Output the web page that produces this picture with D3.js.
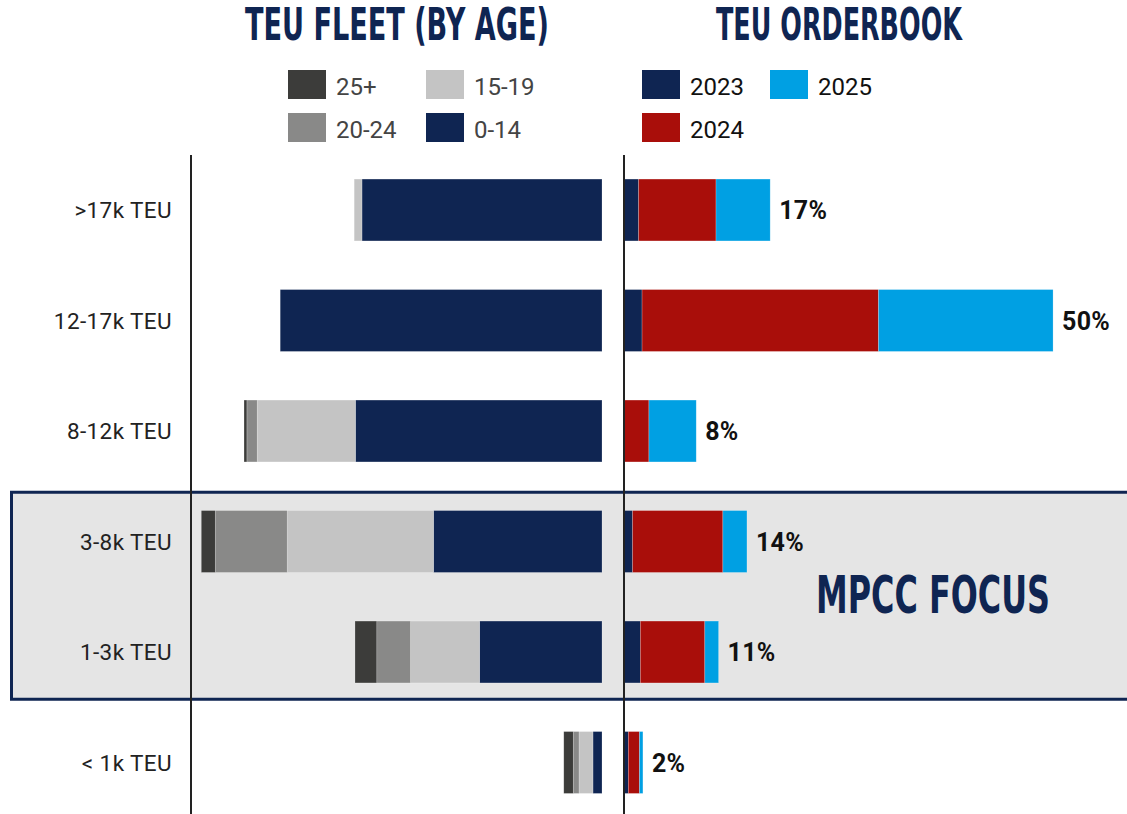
<!DOCTYPE html>
<html>
<head>
<meta charset="utf-8">
<script src="https://cdn.jsdelivr.net/npm/d3@7"></script>
<style>
    body { margin: 0; background: #fff; }
    svg { display: block; }
</style>
</head>
<body>
<div id="chart"></div>
<script>
const categories = ['>17k TEU', '12-17k TEU', '8-12k TEU', '3-8k TEU', '1-3k TEU', '< 1k TEU'];

// fleet by age (arbitrary units)
const ageKeys = ['25+', '20-24', '15-19', '0-14'];
const age25 = [0, 0, 0.07, 0.34, 0.53, 0.23];
const age20 = [0, 0, 0.25, 1.75, 0.82, 0.14];
const age15 = [0.19, 0, 2.39, 3.56, 1.68, 0.34];
const age0 = [5.84, 7.83, 6.00, 4.10, 2.98, 0.22];

// orderbook in % of fleet
const orderKeys = ['2023', '2024', '2025'];
const order2023 = [1.7, 2.1, 0, 1.0, 1.9, 0.5];
const order2024 = [9.0, 27.5, 2.9, 10.5, 7.5, 1.3];
const order2025 = [6.3, 20.3, 5.5, 2.8, 1.6, 0.4];
const orderLabels = ['17%', '50%', '8%', '14%', '11%', '2%'];

const focus = ['3-8k TEU', '1-3k TEU'];

const ageColors = {'25+': '#3c3c3a', '20-24': '#898988', '15-19': '#c4c4c4', '0-14': '#0f2552'};
const orderColors = {'2023': '#0f2552', '2024': '#a90e0a', '2025': '#00a0e3'};
const navy = '#0f2552';

const width = 1127;
const height = 814;

const svg = d3.select('#chart')
    .append('svg')
    .attr('width', width)
    .attr('height', height);

const y = d3.scaleBand()
    .domain(categories)
    .range([154.75, 817.75])
    .paddingInner(0.44)
    .paddingOuter(0.22);

const xLeft = d3.scaleLinear().domain([0, 10]).range([602, 191]);
const xRight = d3.scaleLinear().domain([0, 58.5]).range([624, 1127]);

// condensed bold heading: squeeze horizontally to the width seen in the original
function heading(text, cx, baseline, len, size) {
    const g = svg.append('g');
    const t = g.append('text')
        .attr('text-anchor', 'middle')
        .attr('font-family', '"DejaVu Sans", sans-serif')
        .attr('font-weight', 'bold')
        .attr('font-size', size)
        .attr('fill', navy)
        .text(text);
    const sx = len / t.node().getComputedTextLength();
    g.attr('transform', 'translate(' + cx + ',' + baseline + ') scale(' + sx + ',1)');
}

// MPCC focus box (runs off the right edge like the original)
const gap = (y.step() - y.bandwidth()) / 2;
const focusTop = y(focus[0]) - gap + 6;
const focusBottom = y(focus[1]) + y.bandwidth() + gap - 8;
svg.append('rect')
    .attr('x', 11.5)
    .attr('y', focusTop)
    .attr('width', width - 11.5 + 2)
    .attr('height', focusBottom - focusTop)
    .attr('fill', '#e5e5e5')
    .attr('stroke', navy)
    .attr('stroke-width', 3);

heading('MPCC FOCUS', 933, 613, 234, 51);

// stacked fleet bars, growing to the left
const fleetRows = categories.map((c, i) => ({
    cat: c, '25+': age25[i], '20-24': age20[i], '15-19': age15[i], '0-14': age0[i]
}));
const fleetStack = d3.stack().keys(ageKeys.slice().reverse())(fleetRows);

svg.append('g')
    .selectAll('g')
    .data(fleetStack)
    .enter()
    .append('g')
    .attr('fill', d => ageColors[d.key])
    .selectAll('rect')
    .data(d => d.filter(s => s[1] - s[0] > 0))
    .enter()
    .append('rect')
    .attr('x', d => xLeft(d[1]))
    .attr('y', d => y(d.data.cat))
    .attr('width', d => xLeft(d[0]) - xLeft(d[1]))
    .attr('height', y.bandwidth())
    .attr('stroke', '#ffffff')
    .attr('stroke-opacity', 0.35)
    .attr('stroke-width', 0.6);

// stacked orderbook bars
const orderRows = categories.map((c, i) => ({
    cat: c, '2023': order2023[i], '2024': order2024[i], '2025': order2025[i], label: orderLabels[i]
}));
const orderStack = d3.stack().keys(orderKeys)(orderRows);

svg.append('g')
    .selectAll('g')
    .data(orderStack)
    .enter()
    .append('g')
    .attr('fill', d => orderColors[d.key])
    .selectAll('rect')
    .data(d => d.filter(s => s[1] - s[0] > 0))
    .enter()
    .append('rect')
    .attr('x', d => xRight(d[0]))
    .attr('y', d => y(d.data.cat))
    .attr('width', d => xRight(d[1]) - xRight(d[0]))
    .attr('height', y.bandwidth())
    .attr('stroke', '#ffffff')
    .attr('stroke-opacity', 0.35)
    .attr('stroke-width', 0.6);

svg.append('g')
    .selectAll('text')
    .data(orderRows)
    .enter()
    .append('text')
    .attr('x', d => xRight(d['2023'] + d['2024'] + d['2025']) + 9)
    .attr('y', d => y(d.cat) + y.bandwidth() / 2 + 9)
    .attr('font-family', 'Roboto, sans-serif')
    .attr('font-weight', 'bold')
    .attr('font-size', 25)
    .attr('letter-spacing', 0.3)
    .attr('fill', '#111')
    .text(d => d.label);

// vertical base lines
[xLeft(10), xRight(0)].forEach(x => {
    svg.append('line')
        .attr('x1', x).attr('x2', x)
        .attr('y1', 155).attr('y2', height)
        .attr('stroke', '#222')
        .attr('stroke-width', 2);
});

// category labels
svg.append('g')
    .selectAll('text')
    .data(categories)
    .enter()
    .append('text')
    .attr('x', 172)
    .attr('y', d => y(d) + y.bandwidth() / 2 + 8)
    .attr('text-anchor', 'end')
    .attr('font-family', 'Roboto, sans-serif')
    .attr('font-size', 22.5)
    .attr('letter-spacing', 0.4)
    .attr('fill', '#222')
    .text(d => d);

// titles
heading('TEU FLEET (BY AGE)', 397, 40, 304, 44);
heading('TEU ORDERBOOK', 839, 40, 246, 44);

// legends
function legend(items, colors, textColor) {
    items.forEach(it => {
        svg.append('rect')
            .attr('x', it.x).attr('y', it.y)
            .attr('width', 38).attr('height', 29)
            .attr('fill', colors[it.key]);
        svg.append('text')
            .attr('x', it.x + 48)
            .attr('y', it.y + 25)
            .attr('font-family', 'Roboto, sans-serif')
            .attr('font-size', 24)
            .attr('fill', textColor)
            .text(it.key);
    });
}
legend([
    {key: '25+', x: 288, y: 70},
    {key: '15-19', x: 426, y: 70},
    {key: '20-24', x: 288, y: 113},
    {key: '0-14', x: 426, y: 113}
], ageColors, '#444');
legend([
    {key: '2023', x: 642, y: 70},
    {key: '2025', x: 770, y: 70},
    {key: '2024', x: 642, y: 113}
], orderColors, '#111');
</script>
</body>
</html>
